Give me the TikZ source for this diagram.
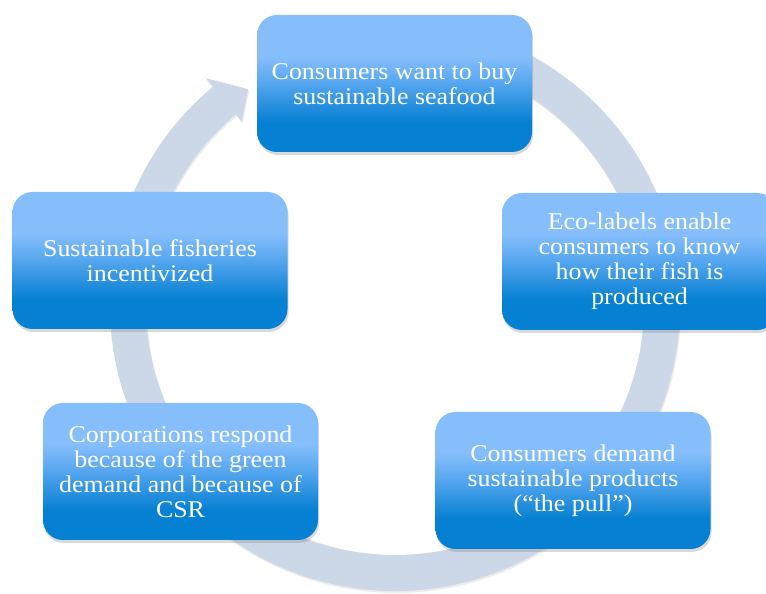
\documentclass[tikz,border=0pt]{standalone}
\usepackage{fontspec}
\setmainfont{Liberation Serif}[FakeStretch=1.08]
\usepackage{tikz}
\usetikzlibrary{shadows}
\definecolor{ringblue}{HTML}{CCD8E8}
\definecolor{boxtop}{HTML}{86BEFC}
\definecolor{boxmid}{HTML}{5AA8F0}
\definecolor{boxbottom}{HTML}{0680D2}
\pgfdeclareverticalshading{boxshade}{100bp}{color(0bp)=(boxbottom); color(25bp)=(boxbottom); color(36bp)=(boxbottom); color(51bp)=(boxmid); color(60bp)=(boxtop); color(100bp)=(boxtop)}
\tikzstyle{stage} = [rectangle, rounded corners=20pt, minimum width=275pt, minimum height=137pt, align=center, text=white, shade, shading=boxshade, font=\fontsize{24}{25}\selectfont, drop shadow={opacity=0.3, shadow xshift=1pt, shadow yshift=-3pt}]
\tikzstyle{ringarrow} = [fill=ringblue, drop shadow={opacity=0.15, shadow xshift=1pt, shadow yshift=-2pt}]

\begin{document}
\begin{tikzpicture}[x=1pt, y=1pt]
	\useasboundingbox (0,0) rectangle (766,594);
	\begin{scope}[shift={(395,288)}]
		\fill[ringarrow] (80:285) arc[start angle=80, end angle=-230.3, radius=285] -- (129.7:296) -- (124.1:262) -- (129.7:240) -- (129.7:249) arc[start angle=-230.3, end angle=80, radius=249] -- cycle;
	\end{scope}
	
	\node (want) [stage] at (394.5,510.5) {Consumers want to buy\\sustainable seafood};
	\node (labels) [stage] at (639.5,332.5) {Eco-labels enable\\consumers to know\\how their fish is\\produced};
	\node (demand) [stage] at (573,113.5) {Consumers demand\\sustainable products\\(“the pull”)};
	\node (respond) [stage] at (180.5,122.5) {Corporations respond\\because of the green\\demand and because of\\CSR};
	\node (incentive) [stage] at (150,333.5) {Sustainable fisheries\\incentivized};
\end{tikzpicture}
\end{document}
